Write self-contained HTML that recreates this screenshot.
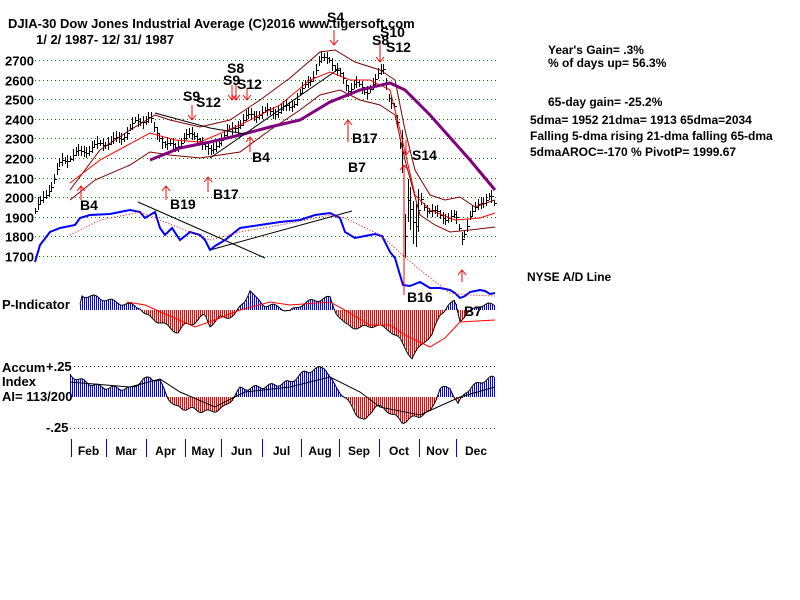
<!DOCTYPE html>
<html><head><meta charset="utf-8"><style>
html,body{margin:0;padding:0;background:#fff;width:800px;height:600px;overflow:hidden}
svg text{font-family:"Liberation Sans",sans-serif;font-weight:bold;fill:#000}
</style></head><body>
<svg id="s" width="800" height="600" xmlns="http://www.w3.org/2000/svg">
<g font-size="13">
<text x="8" y="28">DJIA-30  Dow Jones Industrial Average   (C)2016 www.tigersoft.com</text>
<text x="36" y="44">1/ 2/ 1987- 12/ 31/ 1987</text>
<text x="548" y="54" font-size="12">Year's Gain= .3%</text>
<text x="548" y="67" font-size="12">% of days up= 56.3%</text>
<text x="548" y="106" font-size="12">65-day gain= -25.2%</text>
<text x="530" y="124" font-size="12">5dma= 1952 21dma= 1913 65dma=2034</text>
<text x="530" y="140" font-size="12">Falling 5-dma  rising 21-dma  falling 65-dma</text>
<text x="530" y="156" font-size="12">5dmaAROC=-170 %  PivotP= 1999.67</text>
<text x="527" y="281" font-size="12">NYSE A/D Line</text>
<text x="2" y="309">P-Indicator</text>
<text x="2" y="372">Accum</text>
<text x="2" y="386">Index</text>
<text x="2" y="401">AI= 113/200</text>
<text x="46" y="371">+.25</text>
<text x="46" y="432">-.25</text>
</g>
<g id="grid"></g>
<g id="plot"></g>
</svg>
<script>
const S=document.getElementById('plot'),G=document.getElementById('grid');
const NS='http://www.w3.org/2000/svg';
function el(p,t,a){const e=document.createElementNS(NS,t);for(const k in a)e.setAttribute(k,a[k]);p.appendChild(e);return e;}
function interp(pts,x){for(let i=0;i<pts.length-1;i++){if(x>=pts[i][0]&&x<=pts[i+1][0]){const t=(x-pts[i][0])/(pts[i+1][0]-pts[i][0]);return pts[i][1]+t*(pts[i+1][1]-pts[i][1]);}}return pts[pts.length-1][1];}
function pl(pts,st,w,extra){const a={points:pts.map(p=>p.join(',')).join(' '),fill:'none',stroke:st,'stroke-width':w};Object.assign(a,extra||{});el(S,'polyline',a);}
function vl(x,y1,y2,c){el(S,'line',{x1:x+0.5,x2:x+0.5,y1:Math.round(y1),y2:Math.round(y2),stroke:c,'stroke-width':1,'shape-rendering':'crispEdges'});}
function bar(x,base,v,c){const t=Math.round(Math.min(base,base-v)),h=Math.max(1,Math.round(Math.abs(v)));el(S,'rect',{x:x,y:t,width:1,height:h,fill:c,'shape-rendering':'crispEdges'});}
const yv=v=>60+(2700-v)*0.196;
for(let v=1700;v<=2700;v+=100){const y=Math.round(yv(v))+0.5;el(G,'line',{x1:35,x2:496,y1:y,y2:y,stroke:'#008000','stroke-dasharray':'1,3','shape-rendering':'crispEdges'});
 const t=el(G,'text',{x:5,y:y+5,'font-size':'13'});t.textContent=v;}
el(G,'line',{x1:70,x2:496,y1:366.5,y2:366.5,stroke:'#000','stroke-dasharray':'1,3','shape-rendering':'crispEdges'});
el(G,'line',{x1:70,x2:496,y1:428.5,y2:428.5,stroke:'#800080','stroke-dasharray':'1,3','shape-rendering':'crispEdges'});
const P=[[35,1930],[45,2010],[55,2100],[60,2180],[75,2220],[90,2250],[105,2280],[120,2300],[135,2380],[145,2400],[150,2410],[155,2330],[165,2280],[175,2250],[185,2320],[200,2300],[210,2220],[220,2300],[235,2360],[250,2420],[262,2430],[275,2440],[290,2460],[300,2530],[310,2600],[320,2700],[330,2710],[340,2620],[348,2550],[355,2590],[365,2530],[375,2600],[383,2650],[390,2500],[395,2450],[400,2250],[402,2230],[404,1750],[408,2000],[412,1900],[415,1800],[420,2000],[425,1950],[435,1920],[445,1900],[455,1900],[462,1800],[470,1900],[480,1980],[490,2000],[495,1950]];
for(let i=0;i<=170;i++){const x=Math.round(35+i*2.7);const v=interp(P,x)+Math.sin(i*0.9)*15;const r=(x>400&&x<420)?110:15+Math.abs(Math.sin(i*1.7))*18;
 vl(x,yv(v+r),yv(v-r),'#000');el(S,'line',{x1:x+1,x2:x+3,y1:Math.round(yv(v))+0.5,y2:Math.round(yv(v))+0.5,stroke:'#000','shape-rendering':'crispEdges'});}
pl([[70,190],[100,150],[130,130],[155,115],[170,120],[200,127],[230,120],[260,100],[290,78],[320,52],[335,50],[355,62],[380,70],[395,80],[405,130],[415,170],[430,195],[445,200],[460,197],[475,207],[495,200]],'#800000',1);
pl([[70,200],[95,180],[130,165],[150,152],[170,155],[200,158],[240,152],[270,130],[300,110],[320,95],[340,90],[360,100],[380,105],[395,115],[405,160],[420,215],[435,225],[450,232],[470,230],[495,227]],'#800000',1);
pl([[70,183],[100,160],[150,133],[175,140],[200,142],[240,125],[280,105],[310,80],[330,72],[350,80],[370,80],[390,90],[400,130],[415,195],[430,210],[455,220],[480,218],[495,213]],'#ff0000',1);
pl([[150,160],[180,148],[210,142],[240,135],[270,127],[300,120],[330,102],[360,90],[390,83],[405,90],[430,115],[470,160],[495,190]],'#800080',3);
pl([[155,113],[210,128],[245,134]],'#000',1);pl([[210,158],[340,68]],'#000',1);pl([[138,202],[265,258]],'#000',1);pl([[210,250],[352,211]],'#000',1);
const AD=[[35,262],[40,245],[50,232],[60,228],[75,225],[80,218],[90,215],[110,214],[130,210],[140,212],[145,218],[155,212],[160,228],[165,235],[172,228],[180,240],[190,232],[200,235],[205,240],[210,250],[215,246],[225,240],[240,228],[260,225],[280,222],[300,220],[315,215],[330,213],[340,218],[345,232],[355,238],[365,236],[375,234],[382,236],[390,252],[395,258],[400,275],[403,285],[410,286],[420,282],[430,288],[440,288],[450,290],[455,293],[460,298],[465,296],[470,292],[480,290],[485,291],[490,294],[495,293]];
pl(AD,'#0000ff',2);
pl([[70,235],[100,220],[140,212],[180,228],[210,240],[240,232],[280,225],[330,215],[345,218],[380,235],[420,270],[450,293],[470,295],[495,296]],'#ff0000',1,{'stroke-dasharray':'1,2'});
const PI=[[81,15],[100,12],[115,8],[130,5],[140,3],[145,-5],[160,-12],[170,-18],[178,-22],[185,-15],[195,-12],[205,-5],[210,-15],[220,-8],[235,-5],[245,10],[250,20],[255,12],[265,5],[280,3],[290,-2],[300,5],[315,10],[330,12],[335,0],[345,-15],[360,-18],[375,-15],[390,-20],[400,-30],[412,-48],[425,-30],[432,-25],[440,-5],[448,5],[455,8],[460,-10],[465,-5],[470,-2],[480,5],[490,5],[495,5]];
const pp=[];for(let x=80;x<=494;x+=2){const v=interp(PI,x)+Math.sin(x*0.35)*2;pp.push([x,310-v]);bar(x,310,v,v>0?'#0000ff':'#ff0000');}
pl(pp,'#000',1);
pl([[127,302],[145,305],[195,327],[215,320],[240,310],[270,302],[290,305],[330,302],[345,310],[370,325],[390,325],[405,335],[430,347],[445,338],[460,322],[495,320]],'#ff0000',1);
const AC=[[70,22],[80,17],[100,10],[130,8],[140,15],[150,20],[160,15],[168,0],[175,-10],[190,-12],[210,-15],[225,-10],[240,8],[260,10],[275,12],[290,15],[305,25],[325,30],[335,10],[345,0],[355,-15],[365,-25],[375,-8],[390,-15],[402,-25],[415,-20],[430,-15],[440,8],[450,10],[458,-8],[465,5],[480,15],[495,20]];
const ap=[];for(let x=70;x<=494;x+=2){const v=interp(AC,x)+Math.sin(x*0.4)*2;ap.push([x,397-v]);bar(x,397,v,v>0?'#0000ff':'#ff0000');}
pl(ap,'#000',1);
pl([[70,382],[130,387],[160,379],[180,392],[215,407],[245,392],[290,387],[330,377],[360,392],[380,407],[420,415],[460,397],[495,387]],'#000',1);
const mt=[71,106,146,185,221,262,301,339,379,419,456],mn=['Feb','Mar','Apr','May','Jun','Jul','Aug','Sep','Oct','Nov','Dec'];
mt.forEach((x,i)=>{vl(x,439,457,'#0000ff');const nx=i<10?mt[i+1]:496;const t=el(S,'text',{x:(x+nx)/2,y:455,'font-size':'12','text-anchor':'middle'});t.textContent=mn[i];});
function arr(x,y1,y2,up){el(S,'line',{x1:x,x2:x,y1:y1,y2:y2,stroke:'#ff0000'});const h=up?y1:y2,d=up?5:-5;el(S,'polyline',{points:`${x-4},${h+d} ${x},${h} ${x+4},${h+d}`,fill:'none',stroke:'#ff0000'});}
function lab(x,y,s){const t=el(S,'text',{x:x,y:y,'font-size':'14','font-weight':'normal'});t.textContent=s;}
arr(81,186,200,true);lab(80,210,'B4');arr(166,186,200,true);lab(170,209,'B19');arr(208,177,192,true);lab(213,199,'B17');
arr(250,137,152,true);lab(252,162,'B4');arr(348,120,142,true);lab(352,143,'B17');lab(348,172,'B7');
arr(192,105,120,false);lab(183,101,'S9');lab(196,107,'S12');arr(232,85,100,false);arr(236,85,100,false);arr(247,88,100,false);lab(227,73,'S8');lab(223,85,'S9');lab(237,89,'S12');
arr(334,30,45,false);lab(327,22,'S4');arr(380,40,62,false);lab(372,45,'S8');lab(380,37,'S10');lab(386,52,'S12');
arr(406,140,155,false);lab(412,160,'S14');arr(404,165,295,true);arr(462,270,282,true);lab(407,302,'B16');lab(464,316,'B7');
</script>
</body></html>
